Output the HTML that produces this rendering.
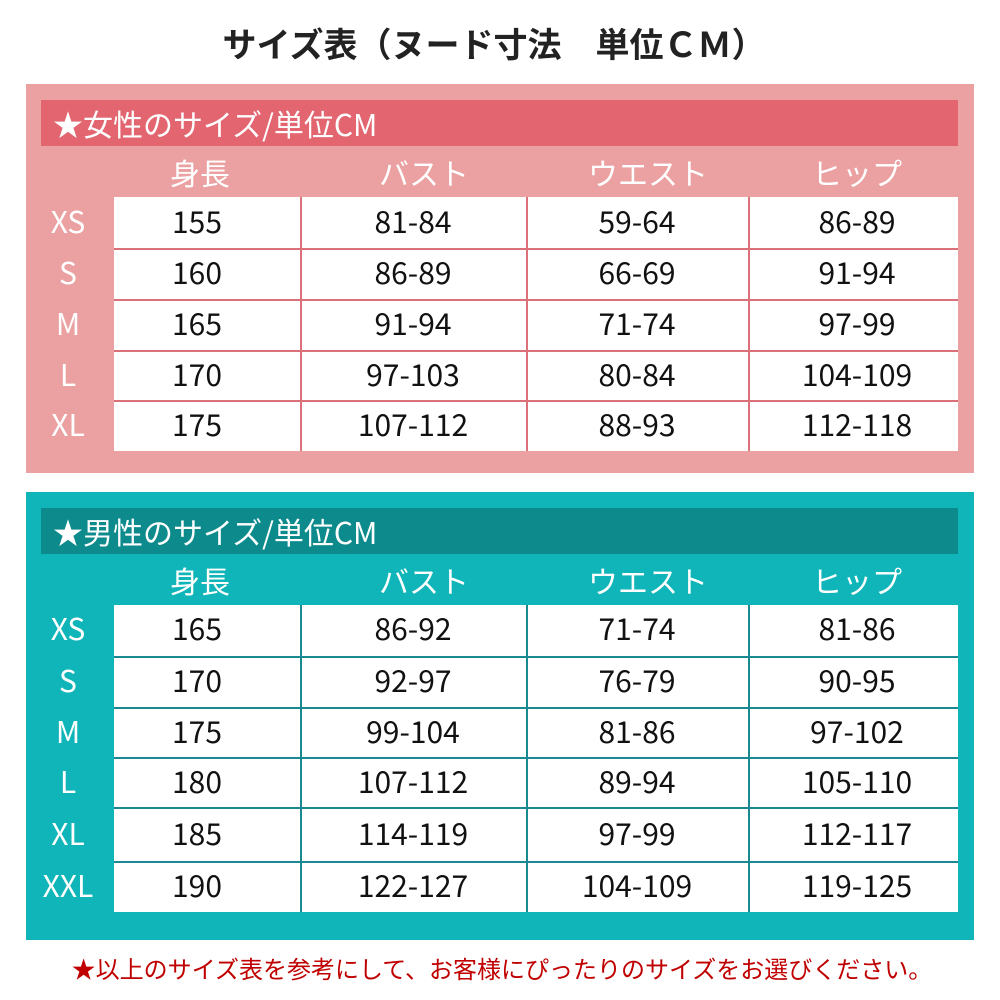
<!DOCTYPE html>
<html><head><meta charset="utf-8"><style>
body{margin:0;width:1000px;height:1000px;background:#fff;position:relative;overflow:hidden;font-family:"Noto Sans CJK JP","Liberation Sans",sans-serif}
div{position:absolute;box-sizing:border-box}
.t{text-align:center;white-space:nowrap}
.c{display:flex;align-items:center;justify-content:center;color:#111;font-size:30px}
.w{color:#fff;font-size:30px;display:flex;align-items:center;justify-content:center}
</style></head><body>
<div class="t" style="left:-6px;top:18px;width:1000px;font-size:34px;font-weight:bold;color:#222;line-height:50px">サイズ表（ヌード寸法　単位ＣＭ）</div>

<div style="left:26px;top:84px;width:948px;height:389px;background:#eba0a1"></div>
<div style="left:41px;top:100px;width:917px;height:46px;background:#e26570;color:#fff;font-size:30px;padding-left:12px;line-height:46px">★女性のサイズ/単位CM</div>
<div style="left:114px;top:197px;width:844px;height:254px;background:#fff"></div>

<div style="left:26px;top:492px;width:948px;height:448px;background:#0fb5b8"></div>
<div style="left:41px;top:508px;width:917px;height:46px;background:#0c8a8c;color:#fff;font-size:30px;padding-left:12px;line-height:46px">★男性のサイズ/単位CM</div>
<div style="left:114px;top:605px;width:844px;height:307px;background:#fff"></div>

<div id="g"></div>
<script>
const cols=[[114,300],[300,526],[526,748],[748,958]];
const hoff=[-7,11,11,4], doff=[-10,0,0,4];
const heads=["身長","バスト","ウエスト","ヒップ"];
function tbl(hy,rows,names,data,line){
  let h="";
  heads.forEach((t,i)=>{h+=`<div class="w" style="left:${cols[i][0]+hoff[i]}px;top:${hy}px;width:${cols[i][1]-cols[i][0]}px;height:44px">${t}</div>`});
  rows.forEach((r,j)=>{
    h+=`<div class="w" style="left:33px;top:${r[0]-3}px;width:70px;height:${r[1]-r[0]}px">${names[j]}</div>`;
    data[j].forEach((v,i)=>{h+=`<div class="c" style="left:${cols[i][0]+doff[i]}px;top:${r[0]-3}px;width:${cols[i][1]-cols[i][0]}px;height:${r[1]-r[0]}px">${v}</div>`});
    if(j>0)h+=`<div style="left:114px;top:${r[0]-1}px;width:844px;height:1.5px;background:${line}"></div>`;
  });
  const top=rows[0][0],bot=rows[rows.length-1][1];
  [300,526,748].forEach(x=>{h+=`<div style="left:${x}px;top:${top}px;width:1.5px;height:${bot-top}px;background:${line}"></div>`});
  return h;
}
let s=tbl(150,[[197,248],[249,299],[300,350],[351,400],[401,451]],["XS","S","M","L","XL"],
[["155","81-84","59-64","86-89"],["160","86-89","66-69","91-94"],["165","91-94","71-74","97-99"],["170","97-103","80-84","104-109"],["175","107-112","88-93","112-118"]],"#d9707a");
s+=tbl(558,[[605,655],[657,707],[708,757],[758,807],[808,861],[862,912]],["XS","S","M","L","XL","XXL"],
[["165","86-92","71-74","81-86"],["170","92-97","76-79","90-95"],["175","99-104","81-86","97-102"],["180","107-112","89-94","105-110"],["185","114-119","97-99","112-117"],["190","122-127","104-109","119-125"]],"#1a8a90");
document.getElementById("g").innerHTML=s;
</script>
<div class="t" style="left:2px;top:950px;width:1000px;font-size:24px;color:#c00000;line-height:36px">★以上のサイズ表を参考にして、お客様にぴったりのサイズをお選びください。</div>
</body></html>
